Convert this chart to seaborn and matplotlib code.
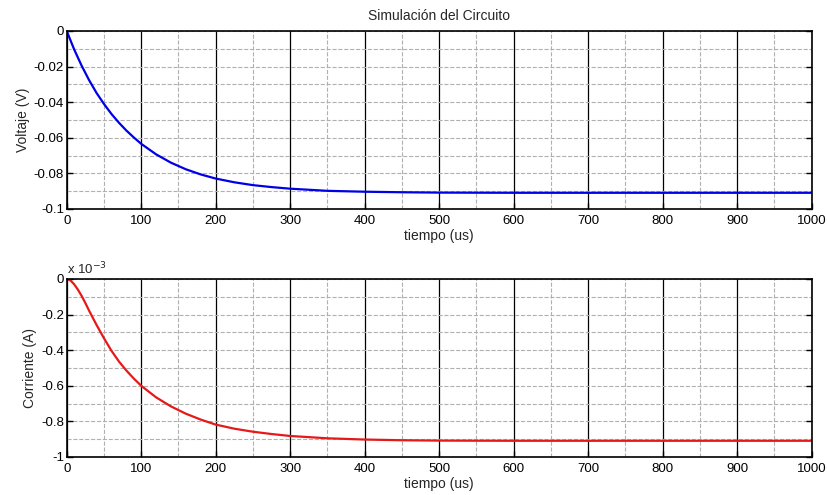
import numpy as np
import pandas as pd
import seaborn as sns
import matplotlib
matplotlib.use("Agg")
import matplotlib.pyplot as plt
from matplotlib.ticker import MultipleLocator

sns.set_style("white")
plt.rcParams['font.family'] = ['Liberation Sans', 'DejaVu Sans']

# tiempo (us)
tiempo = [0, 10, 20, 30, 40, 50, 60, 70, 80, 90, 100, 120, 140, 160, 180,
          200, 225, 250, 275, 300, 350, 400, 450, 500, 600, 700, 800, 900, 1000]
# Voltaje (V)
voltaje = [0, -0.0104, -0.0195, -0.0276, -0.0348, -0.0410, -0.0466, -0.0515,
           -0.0559, -0.0598, -0.0634, -0.0693, -0.0740, -0.0777, -0.0806,
           -0.0829, -0.0850, -0.0866, -0.0877, -0.0886, -0.0898, -0.0903,
           -0.0906, -0.0908, -0.0909, -0.0909, -0.0909, -0.0909, -0.0909]

# corriente (x 1e-3 A), starts flat
tiempo_i = [0, 5, 10, 15, 20, 25, 30, 40, 50, 60, 70, 80, 90, 100, 120, 140,
            160, 180, 200, 225, 250, 275, 300, 350, 400, 450, 500, 600, 700,
            800, 900, 1000]
corriente = [0, -0.008, -0.030, -0.060, -0.095, -0.135, -0.178, -0.258,
             -0.333, -0.403, -0.463, -0.514, -0.559, -0.600, -0.665, -0.716,
             -0.757, -0.790, -0.818, -0.841, -0.858, -0.871, -0.882, -0.895,
             -0.902, -0.906, -0.908, -0.909, -0.909, -0.909, -0.909, -0.909]

df_v = pd.DataFrame({'t': tiempo, 'v': voltaje})
df_i = pd.DataFrame({'t': tiempo_i, 'i': corriente})

fig = plt.figure(figsize=(8.28, 4.95), dpi=100)
ax1 = fig.add_axes([0.0806, 0.5778, 0.8995, 0.3596])
ax2 = fig.add_axes([0.0806, 0.0768, 0.8995, 0.3596])


def style(ax, ymaj, ymin):
    ax.set_xlim(0, 1000)
    ax.xaxis.set_major_locator(MultipleLocator(100))
    ax.xaxis.set_minor_locator(MultipleLocator(50))
    ax.yaxis.set_major_locator(MultipleLocator(ymaj))
    ax.yaxis.set_minor_locator(MultipleLocator(ymin))
    ax.grid(True, which='major', axis='x', color='black', lw=0.9, ls='-')
    ax.grid(True, which='minor', axis='x', color='#b0b0b0', lw=0.8, ls='--')
    ax.grid(True, which='both', axis='y', color='#b0b0b0', lw=0.8, ls='--')
    ax.set_axisbelow(True)
    for s in ax.spines.values():
        s.set_color('black')
        s.set_linewidth(1.2)
        s.set_visible(True)
    ax.tick_params(axis='both', which='major', direction='in', length=4,
                   width=1, labelsize=9.5, pad=2, colors='black',
                   left=True, right=True, bottom=True, top=False)
    ax.tick_params(axis='x', which='major', pad=4)
    ax.tick_params(axis='both', which='minor', length=0)
    ax.set_xlabel('tiempo (us)', fontsize=10, labelpad=2)
    ax.set_xticks(range(0, 1001, 100))
    ax.set_xticklabels([str(v) for v in range(0, 1001, 100)])


sns.lineplot(data=df_v, x='t', y='v', ax=ax1, color='#0000e6', lw=1.6)
style(ax1, 0.02, 0.01)
ax1.set_ylim(-0.1, 0)
ax1.set_yticks([-0.1, -0.08, -0.06, -0.04, -0.02, 0])
ax1.set_yticklabels(['-0.1', '-0.08', '-0.06', '-0.04', '-0.02', '0'])
ax1.set_ylabel('Voltaje (V)', fontsize=10, labelpad=3)
ax1.set_title('Simulación del Circuito', fontsize=10, pad=8)

sns.lineplot(data=df_i, x='t', y='i', ax=ax2, color='#e61919', lw=1.6)
style(ax2, 0.2, 0.1)
ax2.set_ylim(-1, 0)
ax2.set_yticks([-1, -0.8, -0.6, -0.4, -0.2, 0])
ax2.set_yticklabels(['-1', '-0.8', '-0.6', '-0.4', '-0.2', '0'])
ax2.set_ylabel('Corriente (A)', fontsize=10, labelpad=3)
ax2.text(0.0, 1.01, r'x 10$^{-3}$', transform=ax2.transAxes, fontsize=9.5,
         ha='left', va='bottom')

fig.savefig('out.png', dpi=100)
